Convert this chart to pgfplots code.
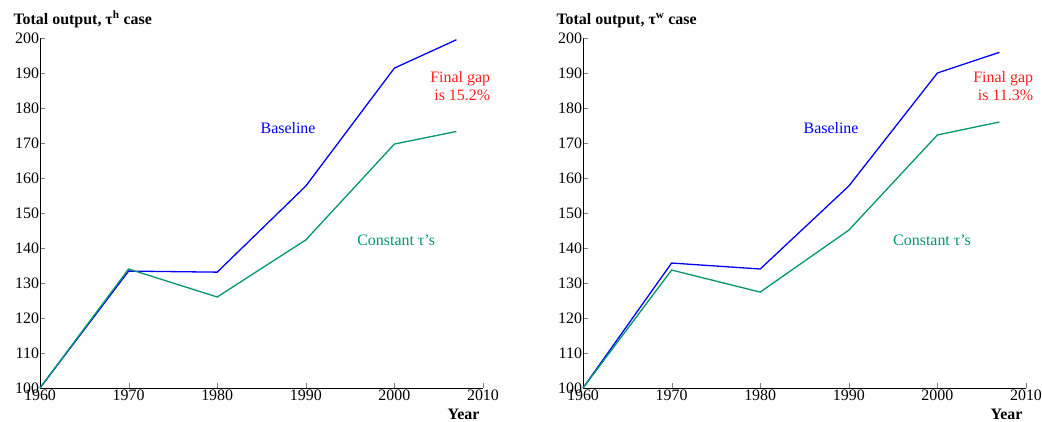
\documentclass[border=0pt]{standalone}
\usepackage{fontspec}
\setmainfont{Liberation Serif}
\usepackage{pgfplots}
\pgfplotsset{compat=1.18}
\definecolor{myblue}{RGB}{0,0,245}
\definecolor{mygreen}{RGB}{0,150,110}
\definecolor{myred}{RGB}{255,30,30}
\newcommand{\fs}{\fontsize{16}{18}\selectfont}
\pgfplotsset{
  myax/.style={
    scale only axis, width=443bp, height=350bp,
    xmin=1960, xmax=2010, ymin=100, ymax=200,
    xtick={1960,1970,...,2010}, ytick={100,110,...,200},
    axis x line*=bottom, axis y line*=left,
    tick align=inside, major tick length=5bp,
    /pgf/number format/assume math mode=true,
    x tick label style={/pgf/number format/1000 sep={}, yshift=2bp},
    y tick label style={xshift=2.5bp},
    tick label style={font=\fs},
    clip=false,
    axis line style={line width=0.6pt},
  }
}
\begin{document}
\begin{tikzpicture}
\useasboundingbox (-40bp,-34bp) rectangle (1002bp,388bp);
\begin{axis}[myax]
\addplot[myblue, line width=1.3pt] coordinates {(1960,100) (1970,133.4) (1980,133.1) (1990,157.7) (2000,191.4) (2007,199.5)};
\addplot[mygreen, line width=1.3pt] coordinates {(1960,100) (1970,134.0) (1980,126.0) (1990,142.3) (2000,169.7) (2007,173.3)};
\node[myblue, font=\fs] at (axis cs:1988,174.3) {Baseline};
\node[mygreen, font=\fs] at (axis cs:2000.2,142.3) {Constant τ’s};
\node[myred, font=\fs, align=right, anchor=east] at (axis cs:2011.2,186.3) {Final gap\\is 15.2\%};
\node[font=\bfseries\fs, anchor=east] at ([yshift=-26bp]rel axis cs:1,0) {Year};
\node[font=\bfseries\fs, anchor=base west] at ([xshift=-30bp,yshift=13bp]rel axis cs:0,1) {Total output, τ\textsuperscript{h} case};
\end{axis}
\begin{axis}[myax, xshift=543bp]
\addplot[myblue, line width=1.3pt] coordinates {(1960,100) (1970,135.7) (1980,134.0) (1990,157.7) (2000,190.0) (2007,195.9)};
\addplot[mygreen, line width=1.3pt] coordinates {(1960,100) (1970,133.7) (1980,127.4) (1990,145.1) (2000,172.3) (2007,176.0)};
\node[myblue, font=\fs] at (axis cs:1988,174.3) {Baseline};
\node[mygreen, font=\fs] at (axis cs:1999.4,142.3) {Constant τ’s};
\node[myred, font=\fs, align=right, anchor=east] at (axis cs:2011.2,186.3) {Final gap\\is 11.3\%};
\node[font=\bfseries\fs, anchor=east] at ([yshift=-26bp]rel axis cs:1,0) {Year};
\node[font=\bfseries\fs, anchor=base west] at ([xshift=-30bp,yshift=13bp]rel axis cs:0,1) {Total output, τ\textsuperscript{w} case};
\end{axis}
\end{tikzpicture}
\end{document}
